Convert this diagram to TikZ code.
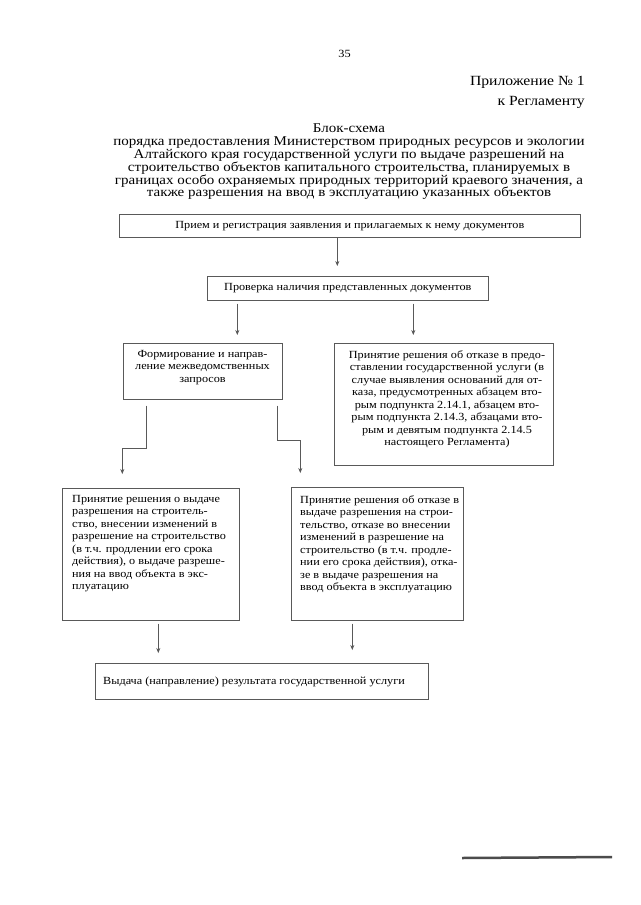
\documentclass[tikz,border=0pt]{standalone}
\usepackage{fontspec}
\setmainfont[FakeStretch=1.12]{Liberation Serif}
\usetikzlibrary{arrows.meta}

\begin{document}
\begin{tikzpicture}[x=1pt,y=-1pt,->,>={Stealth[length=5pt,width=4pt]},
  blok/.style={rectangle,draw=black!65,line width=0.6pt,inner sep=0pt,
    text=black,font=\fontsize{10.9}{12.5}\selectfont},
  tekst/.style={inner sep=0pt,text=black,font=\fontsize{10.9}{12.5}\selectfont},
  strelka/.style={draw=black!65,line width=0.6pt},
  shapka/.style={inner sep=0pt,text=black}]

  \path[fill=white,use as bounding box] (0,0) rectangle (640,905);

  % header
  \node[shapka,font=\fontsize{11}{13}\selectfont] (str) at (344.5,54) {35};
  \node[shapka,anchor=east,font=\fontsize{14}{16}\selectfont] (pril) at (585,82) {Приложение № 1};
  \node[shapka,anchor=east,font=\fontsize{14}{16}\selectfont] (regl) at (585,102) {к Регламенту};
  \node[shapka,align=center,font=\fontsize{13.4}{12.8}\selectfont] (zag) at (349,162)
    {Блок-схема\\
     порядка предоставления Министерством природных ресурсов и экологии\\
     Алтайского края государственной услуги по выдаче разрешений на\\
     строительство объектов капитального строительства, планируемых в\\
     границах особо охраняемых природных территорий краевого значения, а\\
     также разрешения на ввод в эксплуатацию указанных объектов};

  % blocks
  \node[blok,minimum width=461,minimum height=23,anchor=north west] (b1) at (119,214)
    {Прием и регистрация заявления и прилагаемых к нему документов};
  \node[blok,minimum width=281,minimum height=24,anchor=north west] (b2) at (207,276)
    {Проверка наличия представленных документов};
  \node[blok,minimum width=159,minimum height=56,anchor=north west] (b3) at (123,343) {};
  \node[blok,minimum width=219,minimum height=122,anchor=north west] (b4) at (334,343) {};
  \node[blok,minimum width=177,minimum height=132,anchor=north west] (b5) at (62,488) {};
  \node[blok,minimum width=172,minimum height=133,anchor=north west] (b6) at (291,487) {};
  \node[blok,minimum width=333,minimum height=36,anchor=north west] (b7) at (95,663) {};

  % texts of the blocks
  \node[tekst,anchor=north,align=center] (t3) at (202.5,350)
    {Формирование и направ-\\ление межведомственных\\запросов};
  \node[tekst,anchor=north,align=center] (t4) at (447,350)
    {Принятие решения об отказе в предо-\\
     ставлении государственной услуги (в\\
     случае выявления оснований для от-\\
     каза, предусмотренных абзацем вто-\\
     рым подпункта 2.14.1, абзацем вто-\\
     рым подпункта 2.14.3, абзацами вто-\\
     рым и девятым подпункта 2.14.5\\
     настоящего Регламента)};
  \node[tekst,anchor=north west,align=left] (t5) at (72,495)
    {Принятие решения о выдаче\\
     разрешения на строитель-\\
     ство, внесении изменений в\\
     разрешение на строительство\\
     (в т.ч. продлении его срока\\
     действия), о выдаче разреше-\\
     ния на ввод объекта в экс-\\
     плуатацию};
  \node[tekst,anchor=north west,align=left] (t6) at (300,495)
    {Принятие решения об отказе в\\
     выдаче разрешения на строи-\\
     тельство, отказе во внесении\\
     изменений в разрешение на\\
     строительство (в т.ч. продле-\\
     нии его срока действия), отка-\\
     зе в выдаче разрешения на\\
     ввод объекта в эксплуатацию};
  \node[tekst,anchor=north west] (t7) at (103,677)
    {Выдача (направление) результата государственной услуги};

  % arrows
  \draw[strelka,shorten >=10] ([xshift=-12.5]b1.south) -- ([xshift=-12.5]b1.south |- b2.north);
  \draw[strelka,shorten <=3,shorten >=8] ([xshift=-110.5]b2.south) -- ([xshift=-110.5]b2.south |- b3.north);
  \draw[strelka,shorten <=3,shorten >=8] ([xshift=65.5]b2.south) -- ([xshift=65.5]b2.south |- b4.north);
  \draw[strelka,shorten <=6,shorten >=14] ([xshift=-56.5]b3.south) -- ++(0,49) -| ([xshift=-28.5]b5.north);
  \draw[strelka,shorten <=6,shorten >=14] ([xshift=74.5]b3.south) -- ++(0,41) -| ([xshift=-77]b6.north);
  \draw[strelka,shorten <=3,shorten >=10] ([xshift=7.5]b5.south) -- ([xshift=7.5]b5.south |- b7.north);
  \draw[strelka,shorten <=3,shorten >=13] ([xshift=-25]b6.south) -- ([xshift=-25]b6.south |- b7.north);

  % scan mark
  \draw[-,line width=2.5,black!70] (462,858) -- (612,857);
\end{tikzpicture}
\end{document}
